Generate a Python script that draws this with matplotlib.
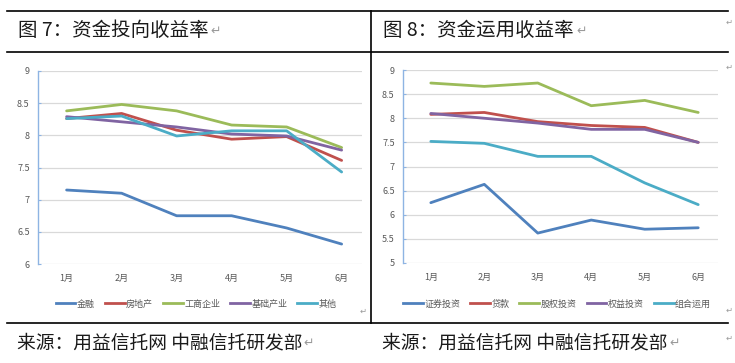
import matplotlib
matplotlib.use("Agg")
import matplotlib.pyplot as plt
from matplotlib.lines import Line2D

plt.rcParams['font.family'] = ['Noto Sans CJK SC', 'DejaVu Sans']

W, H = 735, 363

months = ['1月', '2月', '3月', '4月', '5月', '6月']

# Figure 7: yield by investment direction
left_names = ['金融', '房地产', '工商企业', '基础产业', '其他']
finance = [7.15, 7.10, 6.75, 6.75, 6.56, 6.31]
real_estate = [8.26, 8.34, 8.08, 7.94, 7.98, 7.61]
industrial = [8.38, 8.48, 8.38, 8.16, 8.13, 7.81]
infrastructure = [8.29, 8.21, 8.13, 8.02, 7.99, 7.77]
other = [8.26, 8.30, 7.99, 8.07, 8.07, 7.43]
left_series = [finance, real_estate, industrial, infrastructure, other]
left_yticks = [6, 6.5, 7, 7.5, 8, 8.5, 9]
left_ytick_labels = ['6', '6.5', '7', '7.5', '8', '8.5', '9']

# Figure 8: yield by use of funds
right_names = ['证券投资', '贷款', '股权投资', '权益投资', '组合运用']
securities = [6.25, 6.63, 5.62, 5.89, 5.70, 5.73]
loans = [8.08, 8.12, 7.93, 7.85, 7.81, 7.50]
equity = [8.73, 8.66, 8.73, 8.26, 8.37, 8.12]
equity_rights = [8.10, 8.00, 7.90, 7.77, 7.77, 7.50]
portfolio = [7.52, 7.48, 7.21, 7.21, 6.66, 6.21]
right_series = [securities, loans, equity, equity_rights, portfolio]
right_yticks = [5, 5.5, 6, 6.5, 7, 7.5, 8, 8.5, 9]
right_ytick_labels = ['5', '5.5', '6', '6.5', '7', '7.5', '8', '8.5', '9']

colors = ['#4F81BD', '#C0504D', '#9BBB59', '#8064A2', '#4BACC6']
tick_color = '#595959'
grid_color = '#D9D9D9'

fig = plt.figure(figsize=(W / 100, H / 100), dpi=100)


def fx(x):
    return x / W


def fy(y):
    return 1 - y / H


def make_axes(x0, x1, y0, y1):
    return fig.add_axes([fx(x0), fy(y1), fx(x1) - fx(x0), fy(y0) - fy(y1)])


def style_axes(ax, series, names, yticks, ylabels, legend_cx):
    x = list(range(len(months)))
    for s, c, n in zip(series, colors, names):
        ax.plot(x, s, color=c, lw=2.0, label=n, solid_capstyle='round', zorder=3)
    ax.set_xlim(-0.52, 5.37)
    ax.set_ylim(yticks[0], yticks[-1])
    ax.set_yticks(yticks)
    ax.set_yticklabels(ylabels)
    ax.set_xticks(x)
    ax.set_xticklabels(months)
    for v in yticks:
        ax.axhline(v, color=grid_color, lw=0.9, zorder=1)
    for sp in ['top', 'right', 'bottom']:
        ax.spines[sp].set_visible(False)
    ax.spines['left'].set_color('#8EB4E3')
    ax.spines['left'].set_linewidth(1.0)
    ax.tick_params(axis='y', colors=tick_color, labelsize=6.5, length=2.5,
                   direction='in', pad=6, color='#8EB4E3')
    ax.tick_params(axis='x', colors=tick_color, labelsize=6.5, length=0, pad=7)
    handles = [Line2D([0], [0], color=c, lw=2.0) for c in colors]
    fig.legend(handles, names, loc='center', bbox_to_anchor=(fx(legend_cx), fy(304)),
               bbox_transform=fig.transFigure, ncol=5, frameon=False,
               fontsize=6.5, handlelength=2.2, handletextpad=0.15,
               columnspacing=1.1, labelcolor=tick_color)


axL = make_axes(38, 362, 71, 264)
style_axes(axL, left_series, left_names, left_yticks, left_ytick_labels, 196)

axR = make_axes(403, 718, 70, 263)
style_axes(axR, right_series, right_names, right_yticks, right_ytick_labels, 557)

# frame lines
for y in [11, 52, 323]:
    fig.add_artist(Line2D([fx(7), fx(728)], [fy(y), fy(y)], color='black', lw=1.2))
fig.add_artist(Line2D([fx(371), fx(371)], [fy(11), fy(323)], color='black', lw=1.2))

# titles
fig.text(fx(18), fy(31), '图 7：资金投向收益率', fontsize=14, va='center', ha='left', color='#1a1a1a')
fig.text(fx(383), fy(31), '图 8：资金运用收益率', fontsize=14, va='center', ha='left', color='#1a1a1a')
fig.text(fx(17), fy(343), '来源：用益信托网 中融信托研发部', fontsize=13.5, va='center', ha='left', color='#1a1a1a')
fig.text(fx(382), fy(343), '来源：用益信托网 中融信托研发部', fontsize=13.5, va='center', ha='left', color='#1a1a1a')

# paragraph marks
mark_color = '#9A9A9A'
for (x, y) in [(210, 31), (576, 31), (303, 343), (669, 343)]:
    fig.text(fx(x), fy(y), '↵', fontsize=9, va='center', ha='left', color=mark_color,
             family=['DejaVu Sans'])
for (x, y) in [(729, 22), (729, 67), (363, 311), (729, 310), (729, 338)]:
    fig.text(fx(x), fy(y), '↵', fontsize=6, va='center', ha='center', color=mark_color,
             family=['DejaVu Sans'])

fig.savefig('out.png', dpi=100)
